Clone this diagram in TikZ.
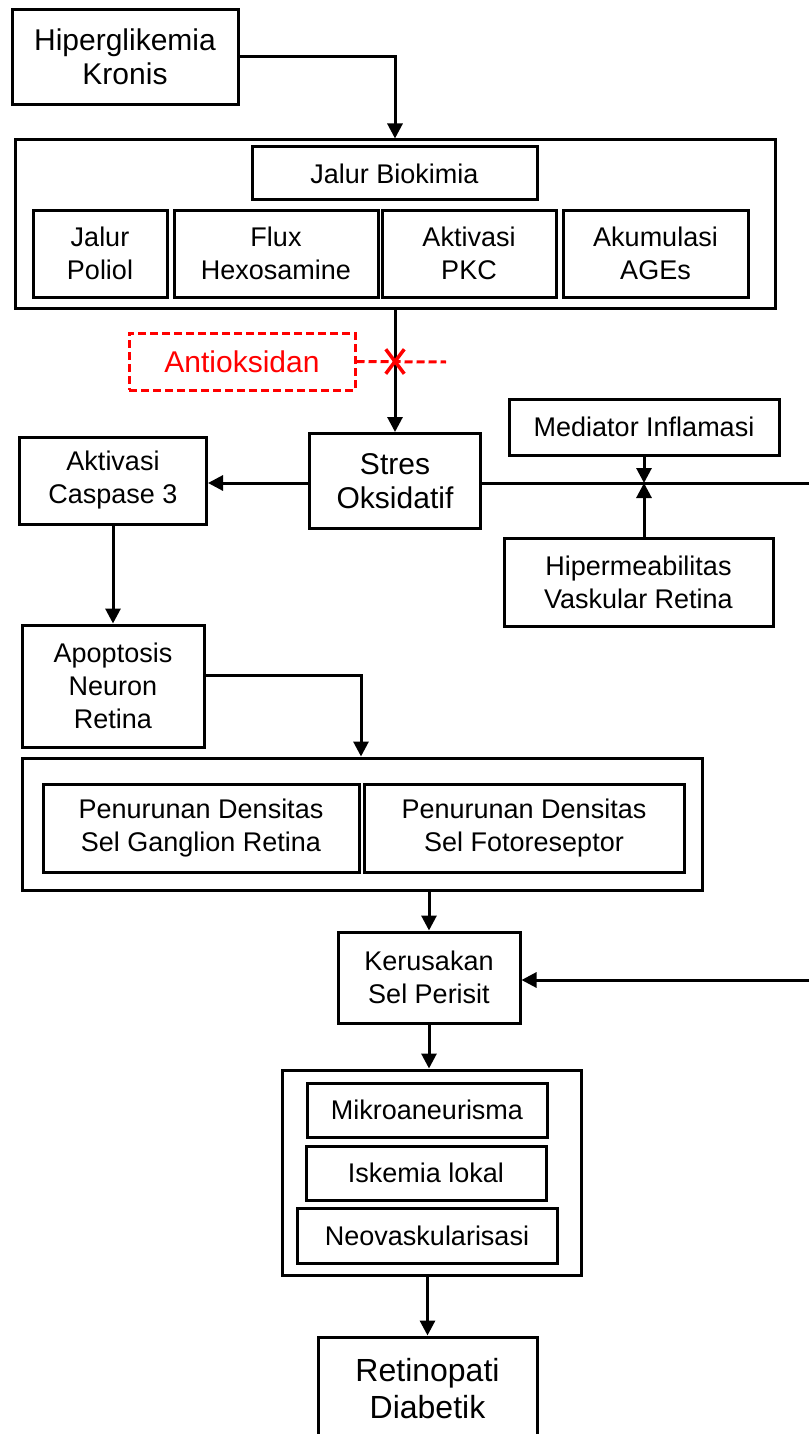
\documentclass[tikz,border=0pt]{standalone}
\usepackage{fontspec}
\setmainfont{Liberation Sans}
\usetikzlibrary{arrows.meta,shapes.misc}

\tikzset{
  box/.style={draw, line width=3pt, align=center, inner sep=0pt,
    font=\fontsize{27}{33}\selectfont},
  bigtxt/.style={font=\fontsize{30}{34}\selectfont},
  arr/.style={line width=3pt, -{Triangle[width=15pt,length=15pt]}},
  link/.style={line width=3pt},
  block/.style={draw=red, line width=3pt, dash pattern=on 8pt off 4pt},
}

\begin{document}
\begin{tikzpicture}[x=1pt,y=-1pt]
\useasboundingbox (0,0) rectangle (809,1434);
\clip (0,0) rectangle (809,1434);

% top
\node[box, bigtxt, minimum width=226pt, minimum height=95pt] (hiper) at (125,57) {Hiperglikemia\\Kronis};

% jalur biokimia
\node[box, minimum width=760pt, minimum height=168pt] (bio) at (395,224) {};
\node[box, minimum width=285pt, minimum height=53pt] (jalur) at (394.5,173.5) {Jalur Biokimia};
\node[box, minimum width=134pt, minimum height=87pt] (poliol) at (100,253.5) {Jalur\\Poliol};
\node[box, minimum width=204pt, minimum height=87pt] (flux) at (276,253.5) {Flux\\Hexosamine};
\node[box, minimum width=174pt, minimum height=87pt] (pkc) at (469,253.5) {Aktivasi\\PKC};
\node[box, minimum width=185pt, minimum height=87pt] (ages) at (655.5,253.5) {Akumulasi\\AGEs};

\node[block, bigtxt, text=red, minimum width=226pt, minimum height=57pt] (antiok) at (242,361.5) {Antioksidan};

% stres oksidatif
\node[box, bigtxt, minimum width=171pt, minimum height=95pt] (stres) at (395,481) {Stres\\Oksidatif};
\node[box, minimum width=270pt, minimum height=56pt] (mediator) at (644,427) {Mediator Inflamasi};
\node[box, minimum width=269pt, minimum height=88pt] (hiperm) at (638.5,582) {Hipermeabilitas\\Vaskular Retina};
\node[box, minimum width=187pt, minimum height=87pt] (caspase) at (113,480.5) {Aktivasi\\Caspase 3};
\node[box, minimum width=182pt, minimum height=122pt] (apop) at (113,686) {Apoptosis\\Neuron\\Retina};

% penurunan densitas
\node[box, minimum width=680pt, minimum height=132pt] (pen) at (362,824) {};
\node[box, minimum width=316pt, minimum height=88pt] (ganglion) at (201,828) {Penurunan Densitas\\Sel Ganglion Retina};
\node[box, minimum width=320pt, minimum height=88pt] (foto) at (524,828) {Penurunan Densitas\\Sel Fotoreseptor};

\node[box, minimum width=182pt, minimum height=91pt] (perisit) at (429,977.5) {Kerusakan\\Sel Perisit};

% komplikasi
\node[box, minimum width=299pt, minimum height=205pt] (komp) at (431.5,1172.5) {};
\node[box, minimum width=240pt, minimum height=54pt] (mikro) at (427,1110) {Mikroaneurisma};
\node[box, minimum width=240pt, minimum height=54pt] (iskemia) at (426,1173) {Iskemia lokal};
\node[box, minimum width=260pt, minimum height=55pt] (neo) at (427,1235.5) {Neovaskularisasi};

\node[box, font=\fontsize{32}{37}\selectfont, minimum width=219pt, minimum height=104pt] (retino) at (427.5,1389) {Retinopati\\Diabetik};

\coordinate (cut) at (bio.south |- antiok.east);
\coordinate (blockend) at (446,362);
\coordinate (edgetop) at (809,483);
\coordinate (edgebot) at (809,980);
\coordinate (junc) at (mediator.south |- edgetop);

% connectors
\draw[arr] (hiper.east) -| (bio.north);
\draw[arr] (bio.south) -- (stres.north);
\draw[block] (antiok.east) -- (blockend);
\node[cross out, draw=red, line width=3.5pt, minimum width=15pt, minimum height=21pt, inner sep=0pt] at (cut) {};
\draw[arr] (edgetop -| stres.west) -- (edgetop -| caspase.east);
\draw[link] (edgetop -| stres.east) -- (edgetop);
\draw[arr] (mediator.south) -- (junc);
\draw[arr] (hiperm.north -| junc) -- (junc);
\draw[arr] (caspase.south) -- (apop.north);
\draw[arr] ([yshift=11pt]apop.east) -| ([xshift=-1pt]pen.north);
\draw[arr] (pen.south -| perisit.north) -- (perisit.north);
\draw[arr] (edgebot) -- (edgebot -| perisit.east);
\draw[arr] (perisit.south) -- (perisit.south |- komp.north);
\draw[arr] (komp.south -| retino.north) -- (retino.north);
\end{tikzpicture}
\end{document}
